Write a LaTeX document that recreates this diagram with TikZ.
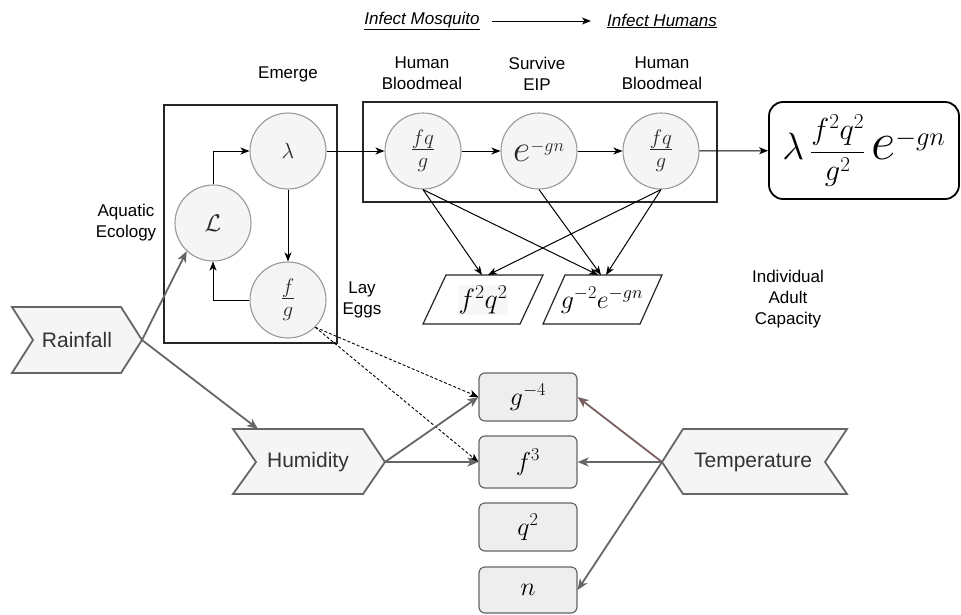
\RequirePackage{fix-cm}
\documentclass[tikz,border=0pt]{standalone}
\usepackage[no-math]{fontspec}
\setmainfont{Liberation Sans}
\usepackage{graphicx}
\usetikzlibrary{arrows.meta}
\definecolor{cfill}{HTML}{F5F5F5}
\definecolor{cline}{HTML}{9A9A9A}
\definecolor{gline}{HTML}{666666}
\definecolor{bfill}{HTML}{EEEEEE}
\definecolor{tline}{RGB}{122,96,96}
\definecolor{mtext}{HTML}{2A2A2A}
\definecolor{pbg}{HTML}{F7F7F7}
\begin{document}
\begin{tikzpicture}[x=1pt,y=-1pt,
  lbl/.style={font=\fontsize{17}{21}\selectfont, align=center, text=black, inner sep=0},
  circ/.style={circle, draw=cline, fill=cfill, line width=1.1pt, minimum size=76pt, inner sep=0, text=mtext},
  boxframe/.style={draw=black!85, line width=1.2pt},
  blk/.style={-{Stealth[length=9pt,width=7pt,inset=2.5pt]}, line width=1pt, black},
  gry/.style={-{Stealth[length=11pt,width=9pt,inset=3pt]}, line width=1.8pt, gline},
  chev/.style={draw=gline, fill=cfill, line width=1.8pt, line join=miter},
  chevtxt/.style={font=\fontsize{21}{24}\selectfont, text=black!80, inner sep=0},
  vbox/.style={draw=gline, fill=bfill, rounded corners=6pt, line width=1.2pt, minimum width=98pt, inner sep=0, font=\fontsize{26}{26}\selectfont},
  para/.style={draw=black!85, fill=white, line width=1.2pt},
  dsh/.style={-{Stealth[length=9pt,width=7pt,inset=2.5pt]}, line width=0.9pt, dash pattern=on 3pt off 2pt, black}
]
\useasboundingbox (0,0) rectangle (961,614);

% frames
\draw[boxframe] (164,105) rectangle (337,343);
\draw[boxframe] (363,102) rectangle (717,202);

% title
\node[lbl] (im) at (422,21) {\underline{\textit{Infect Mosquito}}};
\node[lbl] (ih) at (662,21) {\underline{\textit{Infect Humans}}};
\draw[blk, shorten <=12pt, shorten >=16pt] (im) -- (ih);

% labels
\node[lbl] (emerge) at (288,74) {Emerge};
\node[lbl] (hb1) at (422,73.5) {Human\\Bloodmeal};
\node[lbl] (seip) at (537,73.5) {Survive\\EIP};
\node[lbl] (hb2) at (662,73.5) {Human\\Bloodmeal};
\node[lbl] (aq) at (126,223) {Aquatic\\Ecology};
\node[lbl] (lay) at (362,300) {Lay\\Eggs};
\node[lbl] (iac) at (788,299) {Individual\\Adult\\Capacity};

% circles
\node[circ, font=\fontsize{24}{24}\selectfont] (Lc) at (213,223) {$\mathcal{L}$};
\node[circ, font=\fontsize{22}{22}\selectfont] (lam) at (288,151) {$\lambda$};
\node[circ, font=\fontsize{30}{30}\selectfont] (fg) at (288,300) {$\frac{f}{g}$};
\node[circ, font=\fontsize{30}{30}\selectfont] (fq1) at (423,151) {$\frac{fq}{g}$};
\node[circ, font=\fontsize{26}{26}\selectfont] (egn) at (539,151) {$\scalebox{1.45}{$e$}^{-gn}$};
\node[circ, font=\fontsize{30}{30}\selectfont] (fq2) at (661,151) {$\frac{fq}{g}$};

% output box
\node[draw=black, line width=1.8pt, rounded corners=14pt, minimum width=190pt, minimum height=97pt, inner sep=0, font=\fontsize{38}{38}\selectfont] (out) at (864,150.5)
  {$\lambda\,\scalebox{0.8}{$\displaystyle\frac{f^2q^2}{g^2}$}\,\scalebox{1.4}{$e$}^{-gn}$};

% parallelograms
\draw[para] (423,324) -- (446,275) -- (543,275) -- (520,324) -- cycle;
\node[font=\fontsize{28}{28}\selectfont, inner sep=1pt, fill=pbg] (p1) at (483,300) {$f^2q^2$};
\draw[para] (543,324) -- (565,275) -- (662,275) -- (640,324) -- cycle;
\node[font=\fontsize{26}{26}\selectfont, inner sep=0] (p2) at (602,300) {$g^{-2}e^{-gn}$};
\coordinate (p1a) at (482,275);
\coordinate (p1b) at (488,275);
\coordinate (p2a) at (598,275);
\coordinate (p2b) at (601,275);
\coordinate (p2c) at (606,275);

% black connectors
\draw[blk] (lam) -- (fq1);
\draw[blk] (Lc.north) |- (lam.west);
\draw[blk] (lam) -- (fg);
\draw[blk] (fg.west) -| (Lc.south);
\draw[blk] (fq1) -- (egn);
\draw[blk] (egn) -- (fq2);
\draw[blk] (fq2) -- (out);
\draw[blk] (fq1.south) -- (p1a);
\draw[blk] (fq2.south) -- (p1b);
\draw[blk] (fq1.south) -- (p2a);
\draw[blk] (egn.south) -- (p2b);
\draw[blk] (fq2.south) -- (p2c);

% value boxes
\node[vbox, minimum height=48pt] (g4) at (528,397) {$g^{-4}$};
\node[vbox, minimum height=52pt] (f3) at (528,462) {$f^3$};
\node[vbox, minimum height=48pt] (q2) at (528,527) {$q^2$};
\node[vbox, minimum height=46pt] (nn) at (528,590) {$n$};

% chevrons
\draw[chev] (12,307) -- (121,307) -- (142,340) -- (121,373) -- (12,373) -- (33,340) -- cycle;
\node[chevtxt] (rain) at (77,340) {Rainfall};
\coordinate (rainTip) at (142,340);
\draw[chev] (233,429) -- (363,429) -- (385,462) -- (363,494) -- (233,494) -- (256,462) -- cycle;
\node[chevtxt] (hum) at (308,462) {Humidity};
\coordinate (humTip) at (385,462);
\coordinate (humTop) at (258,429);
\draw[chev] (662,462) -- (683,429) -- (847,429) -- (825,462) -- (847,494) -- (683,494) -- cycle;
\node[chevtxt] (temp) at (753,462) {Temperature};
\coordinate (tempTip) at (662,462);

% dashed
\draw[dsh] (fg.-45) -- (g4.west);
\draw[dsh] (fg.-45) -- (f3.west);

% gray connectors
\draw[gry] (rainTip) -- (Lc.227);
\draw[gry] (rainTip) -- (humTop);
\draw[gry] (humTip) -- (g4.west);
\draw[gry] (humTip) -- (f3.west);
\draw[gry, color=tline] (tempTip) -- (g4.east);
\draw[gry] (tempTip) -- (f3.east);
\draw[gry] (tempTip) -- (nn.east);
\end{tikzpicture}
\end{document}
